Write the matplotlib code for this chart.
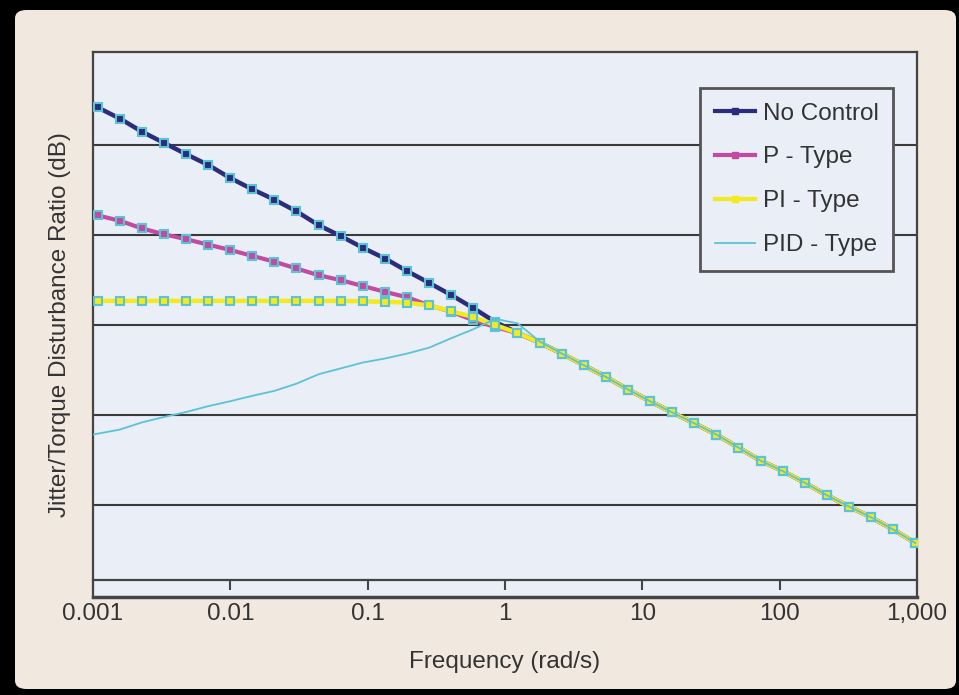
import numpy as np
import matplotlib
matplotlib.use("Agg")
import matplotlib.pyplot as plt
from matplotlib.lines import Line2D
from matplotlib.patches import FancyBboxPatch

plt.rcParams['font.family'] = ['Liberation Sans', 'DejaVu Sans']

# frequency points (rad/s)
freq = [0.00108, 0.00157, 0.00227, 0.00329, 0.00476, 0.00690, 0.00998, 0.01445,
        0.0209, 0.0303, 0.0440, 0.0637, 0.0922, 0.134, 0.194, 0.280, 0.406,
        0.588, 0.851, 1.233, 1.786, 2.59, 3.75, 5.43, 7.87, 11.4, 16.5, 23.9,
        34.6, 50.1, 72.6, 105, 152, 221, 320, 463, 671, 973]

# shared high-frequency roll-off (dB)
tail = [-6.3, -8.9, -11.5, -14.3, -16.9, -19.4, -21.8, -24.3, -27.2, -30.1,
        -32.4, -35.0, -37.8, -40.3, -42.7, -45.4, -48.4]

no_control = [48.4, 45.9, 43.0, 40.5, 38.0, 35.6, 32.7, 30.2, 27.9, 25.3, 22.2,
              19.8, 17.2, 14.8, 12.0, 9.4, 6.7, 3.8, 0.7, -1.7, -3.9] + tail
p_type = [24.4, 23.2, 21.5, 20.2, 19.1, 17.9, 16.7, 15.4, 14.1, 12.6, 11.1,
          10.0, 8.7, 7.4, 6.2, 4.4, 3.0, 1.1, -0.4, -1.8, -3.9] + tail
pi_type = [5.4, 5.4, 5.4, 5.4, 5.4, 5.4, 5.4, 5.4, 5.4, 5.4, 5.4,
           5.4, 5.3, 5.2, 5.0, 4.4, 3.1, 1.8, 0.0, -1.7, -3.9] + tail
pid_type = [-24.3, -23.2, -21.6, -20.4, -19.3, -18.0, -16.9, -15.7, -14.6, -13.0,
            -10.9, -9.6, -8.3, -7.4, -6.3, -5.0, -2.9, -0.9, 1.4, 0.4, -3.6] + tail

labels = ['No Control', 'P - Type', 'PI - Type', 'PID - Type']
colors = ['#2b2d7c', '#c24aa0', '#f2ea1c', '#5cc3d6']
xticks = [0.001, 0.01, 0.1, 1, 10, 100, 1000]
xticklabels = ['0.001', '0.01', '0.1', '1', '10', '100', '1,000']
gridlines = [40, 20, 0, -20, -40]

plot_bg = '#e9eef7'
text_c = '#333333'
fs = 17.5

fig = plt.figure(figsize=(9.59, 6.95), dpi=100, facecolor='black')
bg = FancyBboxPatch((15 / 959, 6 / 695), 941 / 959, 679 / 695,
                    boxstyle='round,pad=0,rounding_size=0.012',
                    transform=fig.transFigure, facecolor='#f1e9df',
                    edgecolor='none', zorder=-10)
fig.add_artist(bg)

ax = fig.add_axes([93 / 959, 98 / 695, 824 / 959, 545 / 695])
ax.set_facecolor(plot_bg)
ax.set_xscale('log')
ax.set_xlim(0.001, 1000)
ax.set_ylim(-60.4, 60.7)

for g in gridlines:
    ax.axhline(g, color='#3a3a3a', lw=1.5, zorder=1)
# bottom frame line of the plot box
ax.axhline(-60.4, color='#444444', lw=2.5, zorder=1, clip_on=False)

ax.spines['bottom'].set_position(('data', -56.7))
for s in ax.spines.values():
    s.set_color('#444444')
    s.set_linewidth(1.6)

ax.plot(freq, no_control, color=colors[0], lw=3.2, marker='s', ms=5.5,
        mfc=colors[0], mec=colors[3], mew=1.5, zorder=3)
ax.plot(freq, p_type, color=colors[1], lw=3.0, marker='s', ms=5.5,
        mfc=colors[1], mec=colors[3], mew=1.5, zorder=4)
ax.plot(freq, pi_type, color=colors[2], lw=3.2, marker='s', ms=5.5,
        mfc=colors[2], mec=colors[3], mew=1.5, zorder=5)
ax.plot([0.001] + freq[1:], pid_type, color=colors[3], lw=1.3, zorder=6)

ax.set_xticks(xticks)
ax.set_xticklabels(xticklabels)
ax.xaxis.set_minor_locator(matplotlib.ticker.NullLocator())
ax.tick_params(axis='x', direction='out', length=7, width=1.5, color='#444444',
               labelsize=fs, labelcolor=text_c, pad=9)
ax.set_yticks([])

ax.set_xlabel('Frequency (rad/s)', fontsize=fs, color=text_c, labelpad=19)
ax.set_ylabel('Jitter/Torque Disturbance Ratio (dB)', fontsize=fs, color=text_c,
              labelpad=16)

handles = [Line2D([], [], color=colors[0], lw=3, marker='s', ms=5, mfc=colors[0], mec=colors[0]),
           Line2D([], [], color=colors[1], lw=3, marker='s', ms=5, mfc=colors[1], mec=colors[1]),
           Line2D([], [], color=colors[2], lw=3, marker='s', ms=5, mfc=colors[2], mec=colors[2]),
           Line2D([], [], color=colors[3], lw=1.3)]
leg = ax.legend(handles, labels, loc='upper left', bbox_to_anchor=(0.737, 0.934),
                borderaxespad=0, fontsize=fs, handlelength=1.65, handletextpad=0.33,
                labelspacing=0.9, borderpad=0.6, fancybox=False, frameon=True,
                facecolor=plot_bg, edgecolor='#555555', framealpha=1)
leg.get_frame().set_linewidth(2)
for t in leg.get_texts():
    t.set_color(text_c)

fig.savefig('out.png', dpi=100, facecolor=fig.get_facecolor())
